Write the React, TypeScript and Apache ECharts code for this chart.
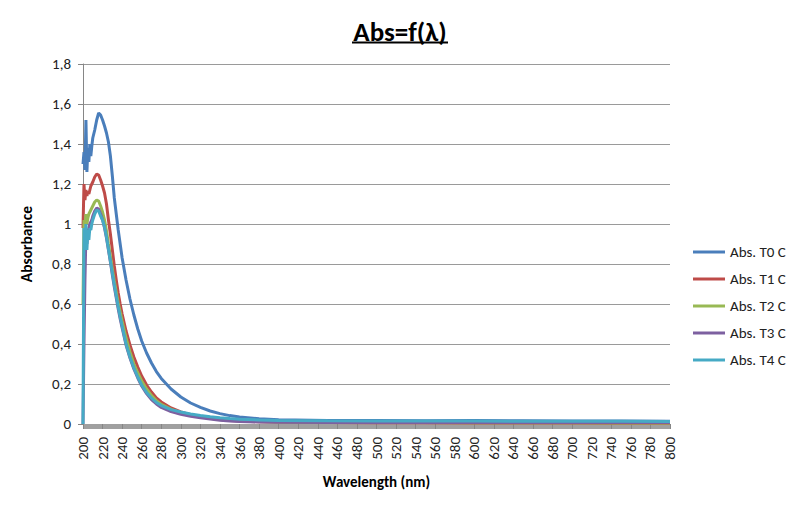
import React, { useEffect, useRef } from "react";
import * as echarts from "echarts";

const wavelengths = [
  200, 201, 202, 203, 204, 205, 206, 207, 208, 209, 210,
  212, 214, 216, 218, 220, 222, 224, 226, 228, 230, 232, 234, 236, 238, 240,
  244, 248, 252, 256, 260,
  265, 270, 275, 280,
  290, 300, 310, 320, 330, 340, 350, 360,
  380, 400,
  450, 500, 550, 600, 650, 700, 750, 800,
];

const absT0 = [
  1.30, 1.36, 1.27, 1.52, 1.26, 1.38, 1.31, 1.40, 1.34, 1.39, 1.43,
  1.47, 1.52, 1.555, 1.545, 1.52, 1.49, 1.455, 1.41, 1.34, 1.24, 1.13, 1.05, 0.97, 0.90, 0.83,
  0.72, 0.625, 0.545, 0.475, 0.415,
  0.355, 0.305, 0.262, 0.228,
  0.175, 0.135, 0.105, 0.083, 0.065, 0.052, 0.042, 0.035,
  0.026, 0.021,
  0.018, 0.017, 0.016, 0.017, 0.016, 0.015, 0.015, 0.014,
];

const absT1 = [
  0.98, 1.20, 1.12, 1.17, 1.14, 1.16, 1.15, 1.17, 1.19, 1.20, 1.21,
  1.235, 1.25, 1.245, 1.22, 1.19, 1.155, 1.10, 1.02, 0.95, 0.87, 0.79, 0.72, 0.655, 0.60, 0.55,
  0.465, 0.395, 0.335, 0.285, 0.24,
  0.195, 0.16, 0.13, 0.11,
  0.08, 0.06, 0.047, 0.037, 0.029, 0.023, 0.018, 0.015,
  0.011, 0.009,
  0.007, 0.006, 0.006, 0.005, 0.005, 0.005, 0.004, 0.004,
];

const absT2 = [
  0.60, 1.02, 0.98, 1.05, 1.00, 1.03, 1.05, 1.06, 1.07, 1.08, 1.09,
  1.11, 1.12, 1.115, 1.09, 1.06, 1.02, 0.965, 0.90, 0.84, 0.775, 0.715, 0.66, 0.605, 0.56, 0.515,
  0.43, 0.36, 0.30, 0.255, 0.215,
  0.175, 0.142, 0.117, 0.098,
  0.073, 0.057, 0.045, 0.036, 0.029, 0.023, 0.019, 0.016,
  0.012, 0.010,
  0.008, 0.007, 0.007, 0.006, 0.006, 0.006, 0.005, 0.005,
];

const absT3 = [
  0.0, 0.40, 0.72, 0.95, 0.90, 0.96, 0.98, 1.00, 1.01, 1.02, 1.04,
  1.065, 1.08, 1.075, 1.05, 1.02, 0.98, 0.93, 0.87, 0.81, 0.745, 0.685, 0.63, 0.575, 0.525, 0.48,
  0.395, 0.33, 0.275, 0.23, 0.19,
  0.152, 0.122, 0.10, 0.083,
  0.062, 0.049, 0.039, 0.031, 0.025, 0.019, 0.015, 0.013,
  0.010, 0.009,
  0.008, 0.008, 0.008, 0.008, 0.008, 0.007, 0.007, 0.007,
];

const absT4 = [
  0.0, 0.98, 0.87, 1.00, 0.87, 0.97, 0.92, 0.98, 0.97, 1.00, 1.02,
  1.05, 1.07, 1.065, 1.04, 1.02, 0.985, 0.935, 0.875, 0.815, 0.755, 0.695, 0.64, 0.585, 0.535, 0.49,
  0.40, 0.335, 0.28, 0.235, 0.195,
  0.158, 0.13, 0.108, 0.092,
  0.072, 0.06, 0.05, 0.042, 0.036, 0.031, 0.027, 0.024,
  0.02, 0.018,
  0.016, 0.015, 0.015, 0.015, 0.014, 0.014, 0.014, 0.013,
];

const seriesNames = ["Abs. T0 C", "Abs. T1 C", "Abs. T2 C", "Abs. T3 C", "Abs. T4 C"];
const seriesValues = [absT0, absT1, absT2, absT3, absT4];
const seriesColors = ["#4A7EBB", "#BE4B48", "#98B954", "#7D60A0", "#46AAC5"];

const titleText = "Abs=f(λ)";
const xAxisTitle = "Wavelength (nm)";
const yAxisTitle = "Absorbance";

const FONT = 'Carlito, Calibri, Lato, "Noto Sans", sans-serif';

export default function App() {
  const ref = useRef<HTMLDivElement | null>(null);

  useEffect(() => {
    document.body.style.margin = "0";
    if (!ref.current) return;
    const chart = echarts.init(ref.current, undefined, { renderer: "svg" });
    const axisGray = "#868686";
    chart.setOption({
      animation: false,
      backgroundColor: "#ffffff",
      title: {
        text: titleText,
        left: "center",
        top: 13,
        textStyle: { fontFamily: FONT, fontSize: 27, fontWeight: "bold", color: "#000" },
      },
      graphic: [
        {
          type: "line",
          shape: { x1: 352, y1: 42.5, x2: 448, y2: 42.5 },
          style: { stroke: "#000", lineWidth: 2 },
        },
      ],
      legend: {
        orient: "vertical",
        left: 693,
        top: 244,
        padding: 0,
        icon: "rect",
        itemWidth: 32,
        itemHeight: 3,
        itemGap: 11,
        textStyle: { fontFamily: FONT, fontSize: 15, color: "#222", lineHeight: 16 },
        data: seriesNames,
      },
      grid: { left: 83, right: 130, top: 64, bottom: 87, containLabel: false },
      xAxis: {
        type: "value",
        min: 200,
        max: 800,
        interval: 20,
        name: xAxisTitle,
        nameLocation: "middle",
        nameGap: 50,
        nameTextStyle: { fontFamily: FONT, fontSize: 15, fontWeight: "bold", color: "#000" },
        axisLine: { show: true, lineStyle: { color: axisGray, width: 1 } },
        axisTick: { show: true, length: 5, lineStyle: { color: axisGray } },
        minorTick: { show: true, splitNumber: 20, length: 5, lineStyle: { color: "#a0a0a0" } },
        splitLine: { show: false },
        axisLabel: {
          rotate: 90,
          margin: 13,
          fontFamily: FONT,
          fontSize: 15,
          color: "#222",
        },
      },
      yAxis: {
        type: "value",
        min: 0,
        max: 1.8,
        interval: 0.2,
        name: yAxisTitle,
        nameLocation: "middle",
        nameGap: 49,
        nameTextStyle: { fontFamily: FONT, fontSize: 15.5, fontWeight: "bold", color: "#000" },
        axisLine: { show: true, lineStyle: { color: axisGray, width: 1 } },
        axisTick: { show: true, length: 5, lineStyle: { color: axisGray } },
        splitLine: { show: true, lineStyle: { color: "#9a9a9a", width: 1 } },
        axisLabel: {
          margin: 12,
          fontFamily: FONT,
          fontSize: 15,
          color: "#222",
          formatter: (v: number) => String(+v.toFixed(1)).replace(".", ","),
        },
      },
      series: seriesNames.map((name, i) => ({
        name,
        type: "line",
        showSymbol: false,
        symbol: "none",
        color: seriesColors[i],
        lineStyle: { color: seriesColors[i], width: 3 },
        data: wavelengths.map((w, j) => [w, seriesValues[i][j]]),
      })),
    });
    return () => chart.dispose();
  }, []);

  return (
    <div
      ref={ref}
      style={{ position: "fixed", left: 0, top: 0, width: 800, height: 511 }}
    />
  );
}
